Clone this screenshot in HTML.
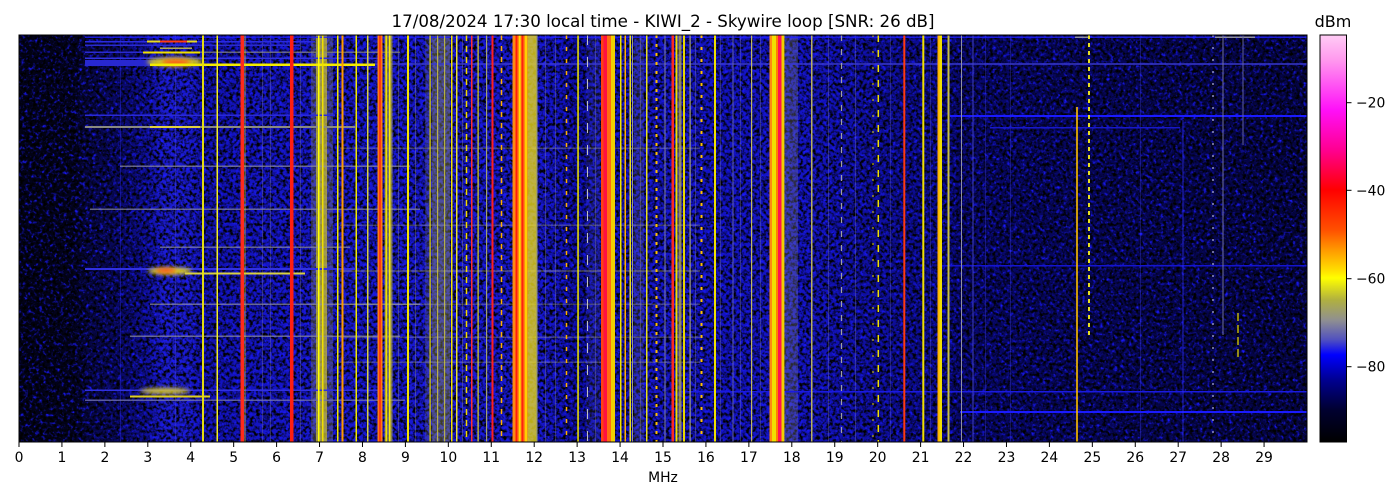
<!DOCTYPE html>
<html><head><meta charset="utf-8"><style>
html,body{margin:0;padding:0;background:#fff;}
svg{display:block;}
text{font-family:"DejaVu Sans","Liberation Sans",sans-serif;fill:#000;}
</style></head><body>
<svg width="1400" height="500" viewBox="0 0 1400 500" xmlns="http://www.w3.org/2000/svg">
<defs>
<linearGradient id="bg" gradientUnits="userSpaceOnUse" x1="19" y1="0" x2="1307" y2="0">
<stop offset="0" stop-color="#020218"/>
<stop offset="0.043" stop-color="#03031e"/>
<stop offset="0.053" stop-color="#060640"/>
<stop offset="0.083" stop-color="#09096a"/>
<stop offset="0.1" stop-color="#0f0f9c"/>
<stop offset="0.113" stop-color="#1c1cd0"/>
<stop offset="0.133" stop-color="#1a1acc"/>
<stop offset="0.143" stop-color="#1010b0"/>
<stop offset="0.167" stop-color="#1313bc"/>
<stop offset="0.233" stop-color="#1717cc"/>
<stop offset="0.3" stop-color="#1818d0"/>
<stop offset="0.4" stop-color="#1818d0"/>
<stop offset="0.42" stop-color="#1212c0"/>
<stop offset="0.435" stop-color="#0a0aa0"/>
<stop offset="0.448" stop-color="#1212bc"/>
<stop offset="0.5" stop-color="#1515c8"/>
<stop offset="0.55" stop-color="#1212c0"/>
<stop offset="0.6" stop-color="#1515c8"/>
<stop offset="0.633" stop-color="#1111b0"/>
<stop offset="0.667" stop-color="#0e0e9c"/>
<stop offset="0.717" stop-color="#0a0a88"/>
<stop offset="0.733" stop-color="#07076a"/>
<stop offset="0.833" stop-color="#060658"/>
<stop offset="0.933" stop-color="#05054a"/>
<stop offset="1" stop-color="#040442"/>
</linearGradient>
<linearGradient id="cb" gradientUnits="userSpaceOnUse" x1="0" y1="35" x2="0" y2="442">
<stop offset="0" stop-color="#ffccf5"/>
<stop offset="0.061" stop-color="#ff99ee"/>
<stop offset="0.184" stop-color="#ff10f8"/>
<stop offset="0.283" stop-color="#ff0090"/>
<stop offset="0.381" stop-color="#ff0000"/>
<stop offset="0.479" stop-color="#ff5000"/>
<stop offset="0.528" stop-color="#ff9900"/>
<stop offset="0.577" stop-color="#ffdd00"/>
<stop offset="0.597" stop-color="#ffff00"/>
<stop offset="0.651" stop-color="#b0b040"/>
<stop offset="0.7" stop-color="#909090"/>
<stop offset="0.749" stop-color="#5050c0"/>
<stop offset="0.786" stop-color="#0000ff"/>
<stop offset="0.848" stop-color="#000090"/>
<stop offset="0.921" stop-color="#000030"/>
<stop offset="1" stop-color="#000000"/>
</linearGradient>
<filter id="nz" x="19" y="35" width="1288" height="407" filterUnits="userSpaceOnUse" color-interpolation-filters="sRGB">
<feTurbulence type="fractalNoise" baseFrequency="0.3" numOctaves="2" seed="7"/>
<feColorMatrix type="matrix" values="0 0 0 0 0  0 0 0 0 0  0 0 0 0 0  3.2 0 0 0 -1.3"/>
</filter>
<filter id="nz2" x="19" y="35" width="1288" height="407" filterUnits="userSpaceOnUse" color-interpolation-filters="sRGB">
<feTurbulence type="fractalNoise" baseFrequency="0.28" numOctaves="2" seed="21"/>
<feColorMatrix type="matrix" values="0 0 0 0 0.1  0 0 0 0 0.1  0 0 0 0 1  3 0 0 0 -1.5"/>
</filter>
<filter id="bl" x="-50%" y="-100%" width="200%" height="300%"><feGaussianBlur stdDeviation="2"/></filter>
<clipPath id="pc"><rect x="19" y="35" width="1288" height="407"/></clipPath>
</defs>

<text x="663" y="27" font-size="16.7" text-anchor="middle" textLength="543" lengthAdjust="spacingAndGlyphs">17/08/2024 17:30 local time - KIWI_2 - Skywire loop [SNR: 26 dB]</text>
<text x="1333" y="27" font-size="16" text-anchor="middle">dBm</text>

<g clip-path="url(#pc)">
<rect x="19" y="35" width="1288" height="407" fill="url(#bg)"/>
<rect x="19" y="35" width="1288" height="407" filter="url(#nz2)"/>
<rect x="19" y="35" width="1288" height="407" filter="url(#nz)"/>

<g opacity="0.35">
<rect x="120" y="35" width="1" height="407" fill="#3030ff"/>
<rect x="175" y="35" width="1" height="407" fill="#5050e0"/>
<rect x="262" y="35" width="1" height="407" fill="#8080b0"/>
<rect x="270" y="35" width="1" height="407" fill="#8080b0"/>
<rect x="300" y="35" width="1" height="407" fill="#8080b0"/>
<rect x="398" y="35" width="1" height="407" fill="#a0a080"/>
<rect x="415" y="35" width="1" height="407" fill="#a0a080"/>
<rect x="462" y="35" width="1" height="407" fill="#a0a080"/>
<rect x="545" y="35" width="1" height="407" fill="#9090a0"/>
<rect x="555" y="35" width="1" height="407" fill="#9090a0"/>
<rect x="595" y="35" width="1" height="407" fill="#9090a0"/>
<rect x="640" y="35" width="1" height="407" fill="#a0a080"/>
<rect x="695" y="35" width="1" height="407" fill="#9090a0"/>
<rect x="720" y="35" width="1" height="407" fill="#8080b0"/>
<rect x="740" y="35" width="1" height="407" fill="#8080b0"/>
<rect x="760" y="35" width="1" height="407" fill="#8080b0"/>
<rect x="828" y="35" width="1" height="407" fill="#8080b0"/>
<rect x="855" y="35" width="1" height="407" fill="#8080b0"/>
<rect x="890" y="35" width="1" height="407" fill="#6060c0"/>
<rect x="930" y="35" width="1" height="407" fill="#6060c0"/>
<rect x="985" y="35" width="1" height="407" fill="#4040e0"/>
<rect x="1010" y="35" width="1" height="407" fill="#4040e0"/>
<rect x="1140" y="35" width="1" height="407" fill="#4040e0"/>
</g>

<!-- haze bands -->
<rect x="311" y="35" width="22" height="407" fill="#8a8a70" opacity="0.35"/>
<rect x="316" y="35" width="11" height="407" fill="#d4c828" opacity="0.65"/>
<rect x="432" y="35" width="18" height="407" fill="#9a9a5a" opacity="0.4"/>
<rect x="425" y="35" width="7" height="407" fill="#7a7a80" opacity="0.25"/>
<rect x="785" y="35" width="13" height="407" fill="#8a8a90" opacity="0.3"/>
<rect x="586" y="35" width="14" height="407" fill="#6060a0" opacity="0.15"/>
<rect x="634" y="35" width="10" height="407" fill="#80809a" opacity="0.2"/>

<!-- left horizontal streaks -->
<rect x="85" y="36.5" width="1222" height="1.5" fill="#2020ff" opacity="0.8"/>
<rect x="85" y="41" width="230" height="1.5" fill="#2a2ae0"/>
<rect x="147" y="40.5" width="50" height="2" fill="#e8d820"/>
<rect x="160" y="40.5" width="27" height="2" fill="#ff3a10"/>
<rect x="85" y="44.5" width="215" height="1.5" fill="#2a2ad0"/>
<rect x="160" y="47.5" width="32" height="1.5" fill="#b0a850"/>
<rect x="85" y="51.5" width="60" height="1.5" fill="#2a2ad0"/>
<rect x="143" y="51.5" width="57" height="2" fill="#f0e000"/>
<rect x="200" y="51.5" width="200" height="1.5" fill="#8a8a80" opacity="0.7"/>
<rect x="85" y="57.5" width="300" height="1.5" fill="#3030e0"/>
<rect x="85" y="60" width="70" height="6" fill="#2828d0"/>
<ellipse cx="175" cy="62" rx="28" ry="4.5" fill="#e0d020" filter="url(#bl)"/>
<ellipse cx="176" cy="62.5" rx="14" ry="2.5" fill="#ff4a10" filter="url(#bl)"/>
<rect x="150" y="63.5" width="225" height="2.5" fill="#f4ec00"/>
<rect x="375" y="63" width="932" height="2" fill="#3838d0" opacity="0.75"/>
<rect x="85" y="114.5" width="250" height="1.5" fill="#2a2ad8"/>
<rect x="85" y="126" width="270" height="2" fill="#8a8a80"/>
<rect x="150" y="126" width="50" height="2" fill="#e0d040"/>
<rect x="120" y="165.5" width="290" height="1.5" fill="#9090a0" opacity="0.7"/>
<rect x="90" y="208.5" width="330" height="1.5" fill="#8a8a9a" opacity="0.7"/>
<rect x="160" y="246.5" width="190" height="1.5" fill="#8a8aa0" opacity="0.7"/>
<rect x="85" y="268" width="270" height="2" fill="#3030e0"/>
<ellipse cx="170" cy="271" rx="22" ry="3.5" fill="#e8d820" filter="url(#bl)"/>
<ellipse cx="166" cy="270.5" rx="10" ry="2" fill="#ff4010" filter="url(#bl)"/>
<rect x="185" y="272.5" width="120" height="2" fill="#d8d040"/>
<rect x="150" y="303.5" width="270" height="1.5" fill="#9090a0" opacity="0.7"/>
<rect x="130" y="335.5" width="270" height="1.5" fill="#9090a0" opacity="0.7"/>
<rect x="85" y="389.5" width="300" height="1.5" fill="#3030e0"/>
<ellipse cx="165" cy="391" rx="25" ry="3" fill="#d8c830" filter="url(#bl)"/>
<rect x="130" y="395.5" width="80" height="2" fill="#e0d020"/>
<rect x="85" y="399.5" width="320" height="1.5" fill="#7070b0" opacity="0.8"/>

<g opacity="0.35" fill="#a0a090">
<rect x="340" y="147.5" width="360" height="1.5"/>
<rect x="340" y="224.5" width="360" height="1.5"/>
<rect x="340" y="270" width="360" height="2"/>
<rect x="340" y="361.5" width="360" height="1.5"/>
<rect x="340" y="303.5" width="360" height="1.5"/>
<rect x="340" y="336.5" width="360" height="1.5"/>
</g>

<rect x="950" y="115" width="357" height="2" fill="#1a1aff"/>
<rect x="990" y="127" width="190" height="1.5" fill="#1818c8"/>
<rect x="940" y="265" width="367" height="1.5" fill="#1414d0"/>
<rect x="680" y="391" width="627" height="1.5" fill="#1a1ae0"/>
<rect x="960" y="411" width="347" height="2" fill="#1a1aff"/>
<rect x="1075" y="36.5" width="15" height="1.5" fill="#9090a0"/>
<rect x="1215" y="36.5" width="40" height="1.5" fill="#9090a0"/>

<!-- vertical signals -->
<rect x="202" y="35" width="2" height="407" fill="#e4dc10"/>
<rect x="216.5" y="35" width="1.5" height="407" fill="#f2ee20"/>
<rect x="240.5" y="35" width="3.5" height="407" fill="#ff2a1a"/>
<rect x="244.5" y="35" width="1" height="407" fill="#e0d020" opacity="0.7"/>
<rect x="290" y="35" width="3.5" height="407" fill="#ff1e10"/>
<rect x="318" y="35" width="1.5" height="407" fill="#ffff00"/>
<rect x="322" y="35" width="1.5" height="407" fill="#f0e000"/>
<rect x="337" y="35" width="1.5" height="407" fill="#f0e800"/>
<rect x="341.5" y="35" width="2" height="407" fill="#ff9a00"/>
<rect x="355.5" y="35" width="1.5" height="407" fill="#f0e800"/>
<rect x="367" y="35" width="1.5" height="407" fill="#d8d040"/>
<rect x="377.5" y="35" width="5" height="407" fill="#ff7a10"/>
<rect x="379" y="35" width="2" height="407" fill="#ff3a10"/>
<rect x="384.5" y="35" width="8" height="407" fill="#b0a848" opacity="0.7"/>
<rect x="385.5" y="35" width="1.5" height="407" fill="#f0e000"/>
<rect x="389" y="35" width="1.5" height="407" fill="#f8ec00"/>
<rect x="407" y="35" width="2" height="407" fill="#f4e400"/>
<rect x="429.5" y="35" width="1.2" height="407" fill="#e0d800"/>
<rect x="437" y="35" width="1.2" height="407" fill="#d0c840" opacity="0.8"/>
<rect x="444" y="35" width="1.2" height="407" fill="#d0c840" opacity="0.8"/>
<rect x="451" y="35" width="1.5" height="407" fill="#f0e000"/>
<rect x="456" y="35" width="1.5" height="407" fill="#e8e030"/>
<line x1="466.5" y1="35" x2="466.5" y2="442" stroke="#f0d800" stroke-width="1.5" stroke-dasharray="6 5"/>
<rect x="471" y="35" width="1.5" height="407" fill="#ff3030"/>
<rect x="477.5" y="35" width="1.2" height="407" fill="#e0d820"/>
<rect x="486" y="35" width="1.2" height="407" fill="#a0a070"/>
<rect x="491.5" y="35" width="2" height="407" fill="#ff2020"/>
<line x1="501.5" y1="35" x2="501.5" y2="442" stroke="#ffb000" stroke-width="1.5" stroke-dasharray="5 6"/>
<rect x="512.5" y="35" width="15" height="407" fill="#ff8a10"/>
<rect x="515.5" y="35" width="2" height="407" fill="#ff1a10"/>
<rect x="519" y="35" width="1.5" height="407" fill="#ffe000"/>
<rect x="521.5" y="35" width="2" height="407" fill="#ff2010"/>
<rect x="525" y="35" width="2" height="407" fill="#ffd000"/>
<rect x="527.5" y="35" width="10" height="407" fill="#e8d820" opacity="0.8"/>
<rect x="536" y="35" width="1.5" height="407" fill="#a0a060"/>
<line x1="566.5" y1="35" x2="566.5" y2="442" stroke="#ffb000" stroke-width="1.5" stroke-dasharray="4 8"/>
<rect x="577.3" y="35" width="1.5" height="407" fill="#f0e800"/>
<line x1="587.5" y1="35" x2="587.5" y2="442" stroke="#c0c0c0" stroke-width="1" stroke-dasharray="10 12"/>
<rect x="601" y="35" width="3" height="407" fill="#ff4010"/>
<rect x="603.5" y="35" width="3.5" height="407" fill="#ff1040"/>
<rect x="607" y="35" width="4" height="407" fill="#ff6a10"/>
<rect x="611" y="35" width="4" height="407" fill="#f0d000"/>
<rect x="620" y="35" width="1.5" height="407" fill="#f0e000"/>
<rect x="624.5" y="35" width="1.5" height="407" fill="#ffb000"/>
<rect x="629.5" y="35" width="1.5" height="407" fill="#e8e020"/>
<rect x="632" y="35" width="1" height="407" fill="#a0a070"/>
<rect x="646" y="35" width="1.5" height="407" fill="#e8e020"/>
<line x1="656.5" y1="35" x2="656.5" y2="442" stroke="#ffc000" stroke-width="2" stroke-dasharray="3 6"/>
<rect x="664.5" y="35" width="1" height="407" fill="#8080a0"/>
<rect x="671.5" y="35" width="2.5" height="407" fill="#ff2a20"/>
<rect x="675.5" y="35" width="2" height="407" fill="#f0e000"/>
<rect x="678.5" y="35" width="3" height="407" fill="#b0a850" opacity="0.8"/>
<rect x="683" y="35" width="2" height="407" fill="#e8d800"/>
<rect x="689.5" y="35" width="1.2" height="407" fill="#a0a080"/>
<line x1="701.5" y1="35" x2="701.5" y2="442" stroke="#ffc000" stroke-width="2" stroke-dasharray="3 9"/>
<rect x="714" y="35" width="2" height="407" fill="#f0e000"/>
<rect x="732.5" y="35" width="1" height="407" fill="#6060b0"/>
<rect x="751" y="35" width="1.2" height="407" fill="#c0b860"/>
<rect x="769.5" y="35" width="2.5" height="407" fill="#ff8a10"/>
<rect x="772" y="35" width="4" height="407" fill="#f0e000"/>
<rect x="776" y="35" width="2" height="407" fill="#ff8000"/>
<rect x="778" y="35" width="3.5" height="407" fill="#ff1050"/>
<rect x="781.5" y="35" width="3" height="407" fill="#f0d000"/>
<rect x="811" y="35" width="1.5" height="407" fill="#b8b060"/>
<line x1="841.5" y1="35" x2="841.5" y2="442" stroke="#a0a0a0" stroke-width="1.2" stroke-dasharray="6 8"/>
<line x1="873" y1="35" x2="873" y2="442" stroke="#e0d000" stroke-width="1" stroke-dasharray="2 14"/>
<line x1="878.3" y1="35" x2="878.3" y2="442" stroke="#f0e000" stroke-width="1.5" stroke-dasharray="7 8"/>
<rect x="903.3" y="35" width="2" height="407" fill="#ff3a10"/>
<rect x="922.3" y="35" width="2" height="407" fill="#f0e000"/>
<rect x="937.5" y="35" width="2" height="407" fill="#ffb000"/>
<rect x="939.5" y="35" width="2.5" height="407" fill="#f0e000"/>
<rect x="947.5" y="35" width="2" height="407" fill="#c8c040"/>
<rect x="961" y="35" width="1" height="407" fill="#9090a0"/>
<rect x="972.5" y="35" width="1" height="407" fill="#4040c0"/>
<rect x="1076.2" y="107" width="1.6" height="335" fill="#ffc000"/>
<line x1="1089" y1="35" x2="1089" y2="336" stroke="#e8e020" stroke-width="2" stroke-dasharray="4 4"/>
<rect x="1182.5" y="120" width="1" height="322" fill="#3030ff" opacity="0.7"/>
<line x1="1213" y1="35" x2="1213" y2="442" stroke="#9090c0" stroke-width="1.5" stroke-dasharray="2 10"/>
<rect x="1222.5" y="35" width="1" height="300" fill="#7070a0"/>
<line x1="1238" y1="313" x2="1238" y2="360" stroke="#f0e000" stroke-width="1.2" stroke-dasharray="8 4"/>
<rect x="1242.5" y="35" width="1" height="110" fill="#6060a0"/>
</g>

<rect x="19" y="35" width="1288" height="407" fill="none" stroke="#000" stroke-width="1"/>

<g stroke="#000" stroke-width="1">
<line x1="19" y1="442" x2="19" y2="447"/><line x1="61.93" y1="442" x2="61.93" y2="447"/><line x1="104.87" y1="442" x2="104.87" y2="447"/><line x1="147.8" y1="442" x2="147.8" y2="447"/><line x1="190.73" y1="442" x2="190.73" y2="447"/><line x1="233.67" y1="442" x2="233.67" y2="447"/><line x1="276.6" y1="442" x2="276.6" y2="447"/><line x1="319.53" y1="442" x2="319.53" y2="447"/><line x1="362.47" y1="442" x2="362.47" y2="447"/><line x1="405.4" y1="442" x2="405.4" y2="447"/><line x1="448.33" y1="442" x2="448.33" y2="447"/><line x1="491.27" y1="442" x2="491.27" y2="447"/><line x1="534.2" y1="442" x2="534.2" y2="447"/><line x1="577.13" y1="442" x2="577.13" y2="447"/><line x1="620.07" y1="442" x2="620.07" y2="447"/><line x1="663" y1="442" x2="663" y2="447"/><line x1="705.93" y1="442" x2="705.93" y2="447"/><line x1="748.87" y1="442" x2="748.87" y2="447"/><line x1="791.8" y1="442" x2="791.8" y2="447"/><line x1="834.73" y1="442" x2="834.73" y2="447"/><line x1="877.67" y1="442" x2="877.67" y2="447"/><line x1="920.6" y1="442" x2="920.6" y2="447"/><line x1="963.53" y1="442" x2="963.53" y2="447"/><line x1="1006.47" y1="442" x2="1006.47" y2="447"/><line x1="1049.4" y1="442" x2="1049.4" y2="447"/><line x1="1092.33" y1="442" x2="1092.33" y2="447"/><line x1="1135.27" y1="442" x2="1135.27" y2="447"/><line x1="1178.2" y1="442" x2="1178.2" y2="447"/><line x1="1221.13" y1="442" x2="1221.13" y2="447"/><line x1="1264.07" y1="442" x2="1264.07" y2="447"/>
</g>
<g font-size="13.9" text-anchor="middle">
<text x="19" y="462">0</text><text x="61.93" y="462">1</text><text x="104.87" y="462">2</text><text x="147.8" y="462">3</text><text x="190.73" y="462">4</text><text x="233.67" y="462">5</text><text x="276.6" y="462">6</text><text x="319.53" y="462">7</text><text x="362.47" y="462">8</text><text x="405.4" y="462">9</text><text x="448.33" y="462">10</text><text x="491.27" y="462">11</text><text x="534.2" y="462">12</text><text x="577.13" y="462">13</text><text x="620.07" y="462">14</text><text x="663" y="462">15</text><text x="705.93" y="462">16</text><text x="748.87" y="462">17</text><text x="791.8" y="462">18</text><text x="834.73" y="462">19</text><text x="877.67" y="462">20</text><text x="920.6" y="462">21</text><text x="963.53" y="462">22</text><text x="1006.47" y="462">23</text><text x="1049.4" y="462">24</text><text x="1092.33" y="462">25</text><text x="1135.27" y="462">26</text><text x="1178.2" y="462">27</text><text x="1221.13" y="462">28</text><text x="1264.07" y="462">29</text>
</g>
<text x="663" y="482" font-size="13.9" text-anchor="middle">MHz</text>

<rect x="1320" y="35" width="26.5" height="407" fill="url(#cb)" stroke="#000" stroke-width="1"/>
<g stroke="#000" stroke-width="1">
<line x1="1346.5" y1="102.7" x2="1351.5" y2="102.7"/>
<line x1="1346.5" y1="190.3" x2="1351.5" y2="190.3"/>
<line x1="1346.5" y1="278.7" x2="1351.5" y2="278.7"/>
<line x1="1346.5" y1="366.7" x2="1351.5" y2="366.7"/>
</g>
<g font-size="13.9">
<text x="1356" y="107.7">−20</text>
<text x="1356" y="195.3">−40</text>
<text x="1356" y="283.7">−60</text>
<text x="1356" y="371.7">−80</text>
</g>
</svg>
</body></html>
